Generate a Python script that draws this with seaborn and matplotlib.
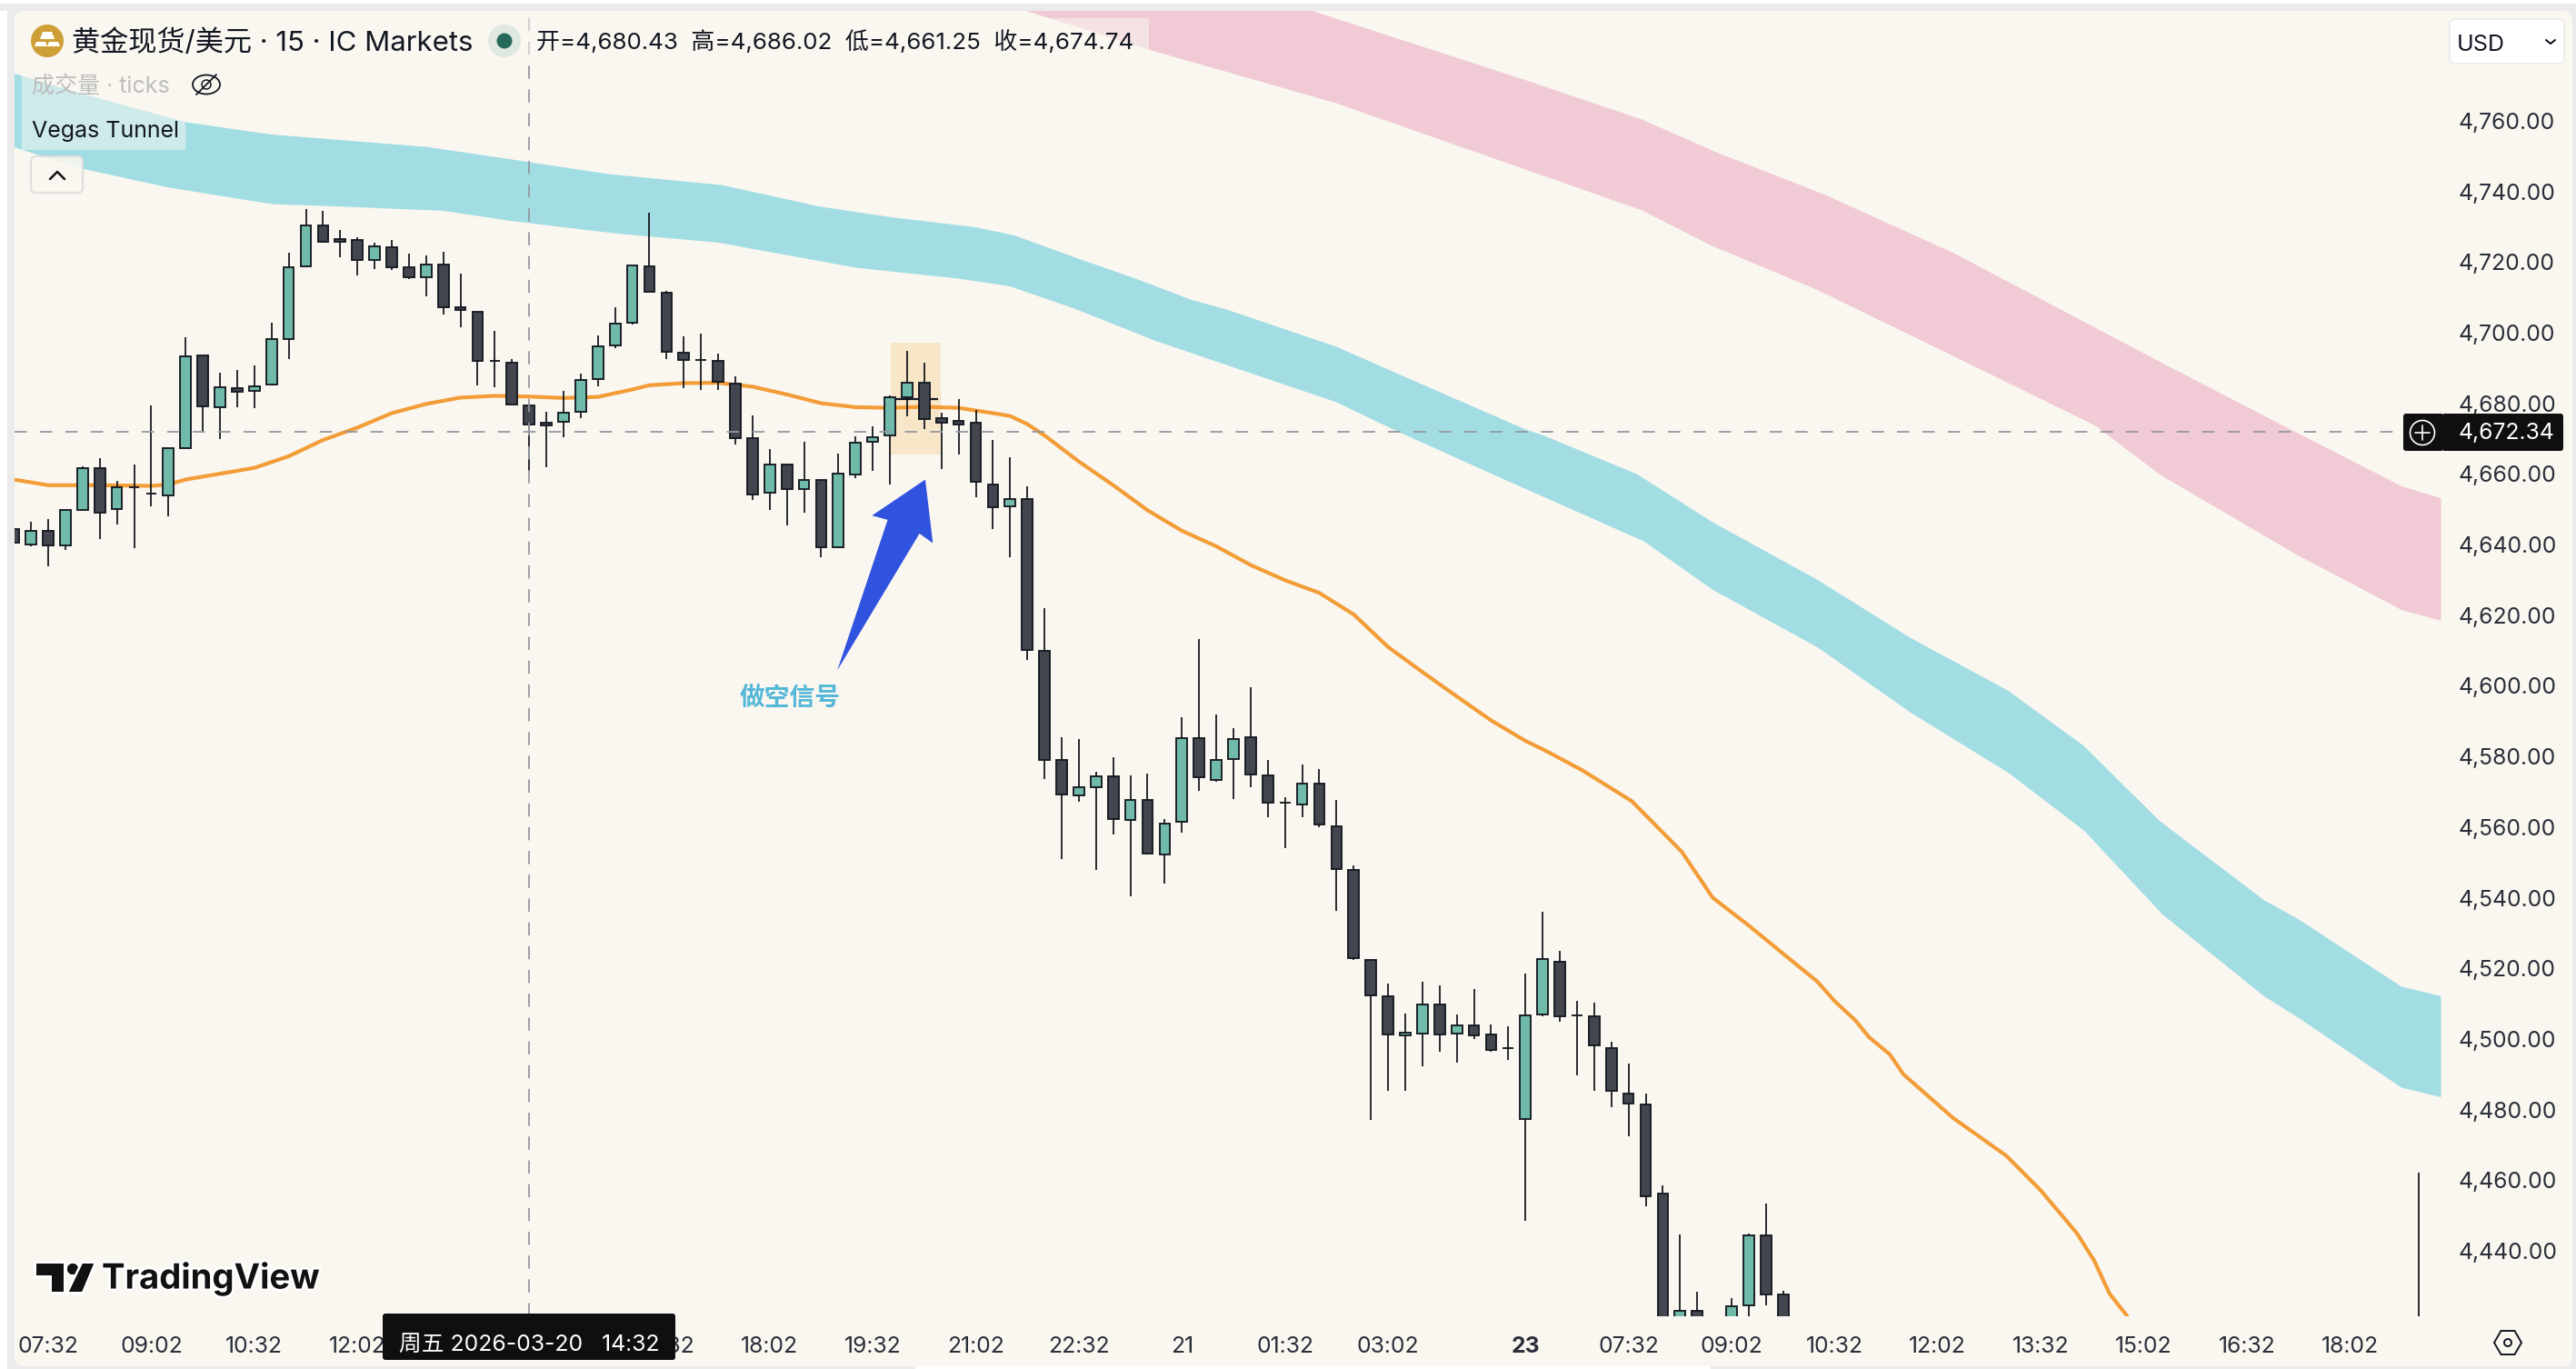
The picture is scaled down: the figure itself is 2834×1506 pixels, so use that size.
import numpy as np
import matplotlib
matplotlib.use("Agg")
import matplotlib.pyplot as plt
import matplotlib.patheffects as pe
from matplotlib.patches import Rectangle, FancyBboxPatch, Circle, Ellipse, Polygon, RegularPolygon
import seaborn as sns

# ---------- data (15-minute bars) ----------
opens = [4644.4,4640.0,4643.8,4639.7,4649.9,4661.7,4650.0,4656.3,4654.5,4654.0,
         4667.4,4693.5,4678.9,4684.4,4683.5,4685.3,4698.2,4718.7,4730.4,4726.4,
         4726.3,4720.6,4724.3,4718.4,4715.7,4719.4,4707.3,4705.9,4692.1,4691.4,
         4679.5,4674.6,4674.7,4677.6,4686.9,4696.3,4702.8,4718.7,4711.3,4694.4,
         4692.3,4692.1,4685.6,4670.0,4654.7,4662.6,4655.7,4658.4,4639.3,4659.8,
         4669.1,4670.8,4681.7,4685.9,4675.8,4674.9,4674.6,4657.1,4650.8,4652.8,
         4610.0,4579.0,4568.9,4571.4,4574.4,4561.9,4567.8,4552.3,4561.4,4585.2,
         4573.4,4579.3,4585.5,4574.7,4566.9,4566.5,4572.4,4560.3,4547.8,4522.4,
         4512.1,4500.9,4501.5,4509.7,4501.5,4503.8,4501.3,4497.5,4477.2,4506.9,
         4521.8,4506.6,4506.5,4497.4,4484.6,4481.5,4456.1,4415.0,4423.0,4418.0,
         4415.0,4424.6,4444.4,4427.7]
highs = [4645.0,4646.4,4647.2,4649.7,4662.2,4664.4,4657.9,4662.7,4679.4,4667.4,
         4698.8,4693.5,4688.7,4689.4,4690.6,4702.8,4722.7,4735.0,4734.5,4729.1,
         4727.1,4725.4,4726.2,4722.3,4721.8,4722.8,4716.7,4706.1,4700.4,4692.4,
         4680.0,4677.7,4683.5,4688.4,4699.2,4707.1,4718.9,4734.0,4711.8,4699.0,
         4699.8,4694.0,4687.6,4676.6,4667.0,4662.9,4669.0,4658.4,4665.8,4670.6,
         4673.5,4682.3,4694.9,4691.4,4677.4,4681.2,4678.0,4669.6,4664.8,4656.5,
         4622.0,4585.5,4584.8,4575.6,4579.8,4574.7,4575.2,4562.3,4591.0,4613.3,
         4591.9,4587.9,4599.7,4578.9,4568.5,4577.7,4576.5,4567.8,4549.2,4522.4,
         4515.8,4507.2,4516.2,4515.2,4506.8,4514.2,4504.1,4503.7,4518.6,4535.9,
         4524.9,4510.9,4510.3,4499.1,4493.0,4484.6,4458.6,4444.7,4428.5,4420.0,
         4426.6,4444.8,4453.4,4428.8]
lows = [4640.0,4639.5,4633.9,4638.5,4649.5,4641.6,4645.6,4639.0,4650.7,4648.1,
        4667.4,4671.6,4669.9,4679.0,4678.6,4685.1,4692.4,4718.6,4725.5,4721.3,
        4716.3,4717.9,4717.7,4715.1,4710.2,4705.2,4701.4,4685.1,4684.5,4679.6,
        4660.9,4661.9,4670.3,4675.9,4684.8,4695.5,4702.4,4711.6,4692.4,4684.3,
        4683.8,4683.8,4668.2,4652.6,4649.9,4645.4,4648.9,4636.5,4639.0,4658.9,
        4660.9,4657.0,4676.4,4672.8,4661.4,4665.5,4653.3,4644.3,4636.3,4607.2,
        4573.5,4550.9,4567.1,4547.8,4557.8,4540.4,4552.3,4543.9,4558.4,4570.3,
        4572.8,4567.9,4571.3,4562.9,4554.0,4562.7,4560.0,4536.2,4522.5,4477.0,
        4485.3,4485.3,4492.2,4496.4,4493.4,4499.9,4496.3,4494.0,4448.5,4506.5,
        4504.8,4489.6,4485.3,4480.7,4472.4,4452.6,4405.0,4410.0,4408.0,4410.0,
        4410.0,4418.0,4424.5,4412.0]
closes = [4640.5,4643.8,4639.7,4649.7,4661.7,4649.0,4656.1,4656.3,4654.5,4667.4,
          4693.3,4679.1,4684.6,4683.2,4684.9,4698.1,4718.6,4730.4,4725.7,4725.8,
          4720.5,4724.4,4718.5,4715.7,4719.4,4707.2,4706.3,4691.9,4692.1,4679.6,
          4673.9,4673.8,4677.4,4686.6,4696.2,4702.6,4718.9,4711.6,4694.7,4692.2,
          4692.3,4686.1,4670.1,4654.2,4662.7,4655.7,4658.4,4639.3,4660.2,4668.9,
          4670.5,4681.8,4685.9,4675.6,4674.4,4674.1,4657.8,4650.6,4652.8,4610.2,
          4578.9,4569.2,4571.3,4574.4,4562.2,4567.8,4552.5,4561.0,4585.2,4574.0,
          4579.0,4585.0,4574.9,4566.9,4566.9,4572.3,4560.6,4548.0,4522.9,4512.4,
          4501.3,4501.7,4509.7,4501.3,4503.8,4500.9,4497.0,4497.5,4506.6,4522.7,
          4506.5,4506.6,4498.1,4485.4,4481.8,4455.5,4410.0,4423.0,4412.0,4412.0,
          4424.3,4444.4,4427.7,4415.0]

live_bar = [140]
live_high = [4462.2]
live_low = [4400.0]

level_bars = [51.0, 53.8]
level_price = 4681.2

ema_bars = [0,2,5,8,9,10,14,16,18,20,22,24,26,28,30,32,34,36,37,39,41,43,45,47,49,51,53,55,57,58,59,60,
            62,64,66,68,70,72,74,76,78,80,82,84,86,88,89.1,91.3,94.2,97.1,98.9,100.9,105,106,107.2,108,
            109.2,110,112.9,116,118,120.1,121.1,122,123,125]
ema_vals = [4658.4,4656.8,4656.8,4656.6,4657.0,4658.4,4661.7,4665.0,4669.6,4673.1,4677.2,4679.8,4681.6,
            4682.1,4681.9,4681.5,4681.8,4683.9,4685.1,4685.7,4685.8,4684.7,4682.5,4680.0,4678.9,4678.7,
            4679.0,4678.7,4677.2,4676.4,4674.1,4670.9,4663.5,4656.8,4649.7,4643.9,4639.5,4634.2,4629.9,
            4626.3,4620.2,4611.0,4603.9,4597.0,4590.2,4584.4,4581.8,4576.1,4567.3,4553.0,4540.0,4532.5,
            4516.2,4510.7,4505.3,4500.5,4495.7,4490.0,4477.6,4466.9,4457.1,4445.0,4437.3,4427.9,4421.7,
            4405.0]

blue_up_x = [0,4,10,15,24,28.5,34.6,41.2,46.9,51.2,55.9,58.2,62,65.3,68.6,70.5,77,82,88,89.1,94.5,98.9,
             105,110.4,116.1,120.5,124.9,131,133,139,141.3]
blue_up_y = [4773.4,4767.6,4759.6,4756.1,4752.6,4749.4,4744.9,4741.8,4735.7,4732.6,4729.9,4727.6,4720.9,
             4715.3,4709.2,4706.7,4696.0,4685.3,4672.6,4670.8,4659.9,4646.3,4630.0,4613.6,4598.6,4583.0,
             4561.8,4539.3,4533.9,4514.8,4512.1]
blue_lo_x = [0,4,9,15,19,25,29,35,41,49,55,58,61.8,66.5,77,80.3,87,89.1,94.9,98.9,105,110.4,116.1,120.5,
             125.1,131,133,139,141.3]
blue_lo_y = [4752.5,4746.4,4741.1,4736.4,4735.7,4734.5,4731.6,4728.1,4725.5,4718.4,4715.3,4713.1,4706.7,
             4697.6,4680.3,4672.6,4657.9,4653.4,4640.9,4627.2,4610.9,4592.5,4575.4,4559.1,4535.2,4512.1,
             4506.0,4486.2,4483.5]
pink_up_x = [58,75.6,88,94.8,99.2,105.3,112.9,125.1,132.7,139,141.3]
pink_up_y = [4815.0,4791.1,4771.5,4760.3,4750.9,4739.3,4722.6,4691.3,4672.2,4656.5,4653.1]
pink_lo_x = [59,66.1,76.9,88,94.8,98.8,104.9,112.9,121.2,124.9,132.8,139,141.3]
pink_lo_y = [4791.0,4780.1,4765.1,4746.2,4734.6,4724.7,4712.3,4693.4,4673.6,4659.9,4637.4,4621.5,4618.4]

signal_box_bars = [51.05, 53.96]
signal_box_prices = [4665.4, 4697.2]
arrow_bars = [53.06, 49.96, 50.87, 47.94, 52.72, 53.5]
arrow_prices = [4658.4, 4648.2, 4647.0, 4604.4, 4643.1, 4640.4]
signal_text = "做空信号"
signal_text_pos = (45.2, 4596.6)

crosshair_bar = 30
crosshair_price = 4672.0
crosshair_price_label = "4,672.34"
crosshair_time_label = "周五 2026-03-20   14:32"

price_ticks = [4440,4460,4480,4500,4520,4540,4560,4580,4600,4620,4640,4660,4680,4700,4720,4740,4760]
time_tick_bars = [2,8,14,20,38,44,50,56,62,68,74,80,88,94,100,106,112,118,124,130,136]
time_tick_labels = ["07:32","09:02","10:32","12:02","16:32","18:02","19:32","21:02",
                    "22:32","21","01:32","03:02","23","07:32","09:02","10:32","12:02","13:32","15:02",
                    "16:32","18:02"]
title_text = "黄金现货/美元 · 15 · IC Markets"
ohlc_text = "开=4,680.43  高=4,686.02  低=4,661.25  收=4,674.74"

# ---------- style ----------
PANEL = "#FAF7F0"
GREY = "#EBEBEB"
INK = "#131722"
UP = "#6FBAA9"
DOWN = "#43464E"
EDGE = "#161A22"
W, H = 2834, 1506

sns.set_theme(style="white")
plt.rcParams["font.family"] = ["Inter", "Noto Sans CJK SC", "DejaVu Sans"]
plt.rcParams["axes.unicode_minus"] = False

fig = plt.figure(figsize=(W / 100, H / 100), dpi=100, facecolor="white")

# chrome behind the chart
bg = fig.add_axes([0, 0, 1, 1], zorder=0)
bg.set_xlim(0, W); bg.set_ylim(H, 0); bg.axis("off")
bg.add_patch(Rectangle((8, 4), W - 8, H - 4, fc=GREY, ec="none"))
bg.add_patch(Rectangle((0, 4), 8, 8, fc=GREY, ec="none"))
bg.add_patch(Rectangle((1007, 1500), 875, 6, fc="white", ec="none"))
bg.add_patch(FancyBboxPatch((24, 20), 2798, 1475, boxstyle="round,pad=8,rounding_size=10", fc=PANEL, ec="none"))

# main chart
left, right, top, bottom = 16, 2685.5, 12, 1447.5
ax = fig.add_axes([left / W, 1 - bottom / H, (right - left) / W, (bottom - top) / H], zorder=1)
ax.patch.set_alpha(0)
for s in ax.spines.values():
    s.set_visible(False)
ax.set_xlim(0.04, 141.3)
ax.set_ylim(4421.6, 4791.1)
ax.grid(False)

ax.fill(list(pink_up_x) + list(pink_lo_x)[::-1], list(pink_up_y) + list(pink_lo_y)[::-1],
        color="#F0CAD4", lw=0, zorder=1)
ax.fill(list(blue_up_x) + list(blue_lo_x)[::-1], list(blue_up_y) + list(blue_lo_y)[::-1],
        color="#A2DDE4", lw=0, zorder=1)

ax.add_patch(Rectangle((signal_box_bars[0], signal_box_prices[0]),
                       signal_box_bars[1] - signal_box_bars[0],
                       signal_box_prices[1] - signal_box_prices[0],
                       fc="#F8E6C8", ec="none", zorder=1.5))

sns.lineplot(x=ema_bars, y=ema_vals, ax=ax, color="#F29D38", lw=3.0, estimator=None,
             sort=False, legend=False, zorder=2)

o, h, l, c = map(np.array, (opens, highs, lows, closes))
idx = np.arange(len(o))
is_up = c > o
colors = np.where(is_up, UP, DOWN)
ax.hlines(level_price, level_bars[0], level_bars[1], color=EDGE, lw=1.6, zorder=3)
ax.vlines(idx, l, h, color="#0E1116", lw=1.25, zorder=3)
ax.vlines(live_bar, live_low, live_high, color="#0E1116", lw=1.25, zorder=3)
ax.bar(idx, np.abs(c - o), bottom=np.minimum(o, c), width=0.62, color=colors,
       edgecolor=EDGE, linewidth=1.35, zorder=4)

ax.add_patch(Polygon(np.column_stack([arrow_bars, arrow_prices]), closed=True, fc="#2F52DF", ec="none", zorder=5))
ax.text(signal_text_pos[0], signal_text_pos[1], signal_text, color="#55B8D8", fontsize=20,
        ha="center", va="center", fontweight="bold", family=["Noto Sans CJK SC"], zorder=5)

ax.hlines(crosshair_price, ax.get_xlim()[0], 139.1, color="#9598A1", lw=1.3,
          linestyles=(0, (7.5, 8)), zorder=6)
ax.vlines(crosshair_bar, ax.get_ylim()[0], ax.get_ylim()[1], color="#9598A1", lw=1.3,
          linestyles=(0, (8, 6.5)), zorder=6)

ax.yaxis.tick_right()
ax.set_yticks(price_ticks)
ax.set_yticklabels([f"{v:,.2f}" for v in price_ticks], fontsize=17.8, color="#2A2E39", ha="left")
ax.set_xticks(time_tick_bars)
ax.set_xticklabels(time_tick_labels, fontsize=17.8, color="#2A2E39")
ax.tick_params(axis="both", length=0, labelbottom=True)
ax.tick_params(axis="y", pad=14)
ax.tick_params(axis="x", pad=16)
for lab in ax.get_xticklabels():
    if lab.get_text() == "23":
        lab.set_fontweight("bold")
ax.set_xlabel(""); ax.set_ylabel("")

# interface elements above the chart (screen pixels)
ui = fig.add_axes([0, 0, 1, 1], zorder=10)
ui.set_xlim(0, W); ui.set_ylim(H, 0); ui.axis("off"); ui.patch.set_alpha(0)

ui.add_patch(Rectangle((24, 20), 1240, 42, fc=PANEL, ec="none", alpha=0.55))
ui.add_patch(Rectangle((24, 82), 176, 42, fc=PANEL, ec="none", alpha=0.5))
ui.add_patch(Rectangle((24, 124), 180, 41, fc=PANEL, ec="none", alpha=0.5))

ui.add_patch(Circle((52, 45), 18, fc="#CE9F36", ec="none"))
ui.add_patch(Polygon([(47, 35), (57, 35), (60, 43), (44, 43)], fc="white", ec="none"))
ui.add_patch(Polygon([(40, 46), (50, 46), (52, 51), (38, 51)], fc="white", ec="none"))
ui.add_patch(Polygon([(54, 46), (64, 46), (66, 51), (52, 51)], fc="white", ec="none"))
ui.text(79, 47, title_text, fontsize=22.45, color=INK, va="center", ha="left")
ui.add_patch(Circle((555, 45), 18, fc="#DFE8E1", ec="none"))
ui.add_patch(Circle((555, 45), 8.5, fc="#26695A", ec="none"))
ui.text(590, 46, ohlc_text, fontsize=18.7, color=INK, va="center", ha="left")

ui.text(35, 95, "成交量 · ticks", fontsize=18, color="#BDBDBD", va="center", ha="left")
ui.add_patch(Ellipse((227, 93), 30, 21, fc="none", ec=INK, lw=1.3))
ui.add_patch(Circle((227, 93), 5, fc="none", ec=INK, lw=1.1))
ui.plot([216, 238], [104, 82], color=INK, lw=1.3)
ui.text(35, 144, "Vegas Tunnel", fontsize=18, color=INK, va="center", ha="left")

ui.add_patch(FancyBboxPatch((38, 176), 49, 32, boxstyle="round,pad=4,rounding_size=5",
                            fc=PANEL, ec="#DCDCDC", lw=1.5, alpha=0.88))
ui.plot([55, 63, 71], [197, 189, 197], color="#111111", lw=1.8)

ui.add_patch(FancyBboxPatch((2699, 25), 118, 41, boxstyle="round,pad=4,rounding_size=6",
                            fc="white", ec="#EEEEEE", lw=1.5))
ui.text(2703, 49, "USD", fontsize=18, color=INK, va="center", ha="left")
ui.plot([2801, 2806, 2811], [44, 48, 44], color=INK, lw=1.5)

ui.add_patch(FancyBboxPatch((2647, 458), 38.5, 35, boxstyle="round,pad=3,rounding_size=3", fc="#0F0F0F", ec="none"))
ui.add_patch(Rectangle((2680, 455), 5.5, 41, fc="#0F0F0F", ec="none"))
ui.add_patch(FancyBboxPatch((2691, 458), 126, 35, boxstyle="round,pad=3,rounding_size=3", fc="#0F0F0F", ec="none"))
ui.add_patch(Rectangle((2688, 455), 6, 41, fc="#0F0F0F", ec="none"))
ui.add_patch(Circle((2665, 476), 13.5, fc="none", ec="white", lw=1.2))
ui.plot([2657, 2673], [476, 476], color="white", lw=1.2)
ui.plot([2665, 2665], [468, 484], color="white", lw=1.2)
ui.text(2705, 476, crosshair_price_label, fontsize=17.8, color="white", va="center", ha="left")

ui.add_patch(FancyBboxPatch((424, 1448), 316, 45, boxstyle="round,pad=3,rounding_size=3", fc="#0F0F0F", ec="none"))
ui.add_patch(Rectangle((421, 1448), 322, 12, fc="#0F0F0F", ec="none"))
ui.text(582, 1480, crosshair_time_label, fontsize=17.8, color="white", va="center", ha="center")

halo = [pe.withStroke(linewidth=4, foreground="white")]
logo_parts = [Polygon([(40, 1390), (70, 1390), (70, 1421), (57, 1421), (57, 1403), (40, 1403)], fc="#111111", ec="none"),
              Circle((80, 1396), 6, fc="#111111", ec="none"),
              Polygon([(91, 1390), (103, 1390), (90, 1421), (76, 1421)], fc="#111111", ec="none")]
for part in logo_parts:
    part.set_path_effects(halo + [pe.Normal()])
    ui.add_patch(part)
ui.text(112, 1407, "TradingView", fontsize=27.5, fontweight="bold", color="#111111", va="center", ha="left",
        path_effects=halo)

ui.add_patch(RegularPolygon((2759, 1477), 6, radius=15, orientation=np.pi / 6, fc="none", ec=INK, lw=1.4))
ui.add_patch(Circle((2759, 1477), 4, fc="none", ec=INK, lw=1.4))

fig.savefig("out.png", dpi=100)
